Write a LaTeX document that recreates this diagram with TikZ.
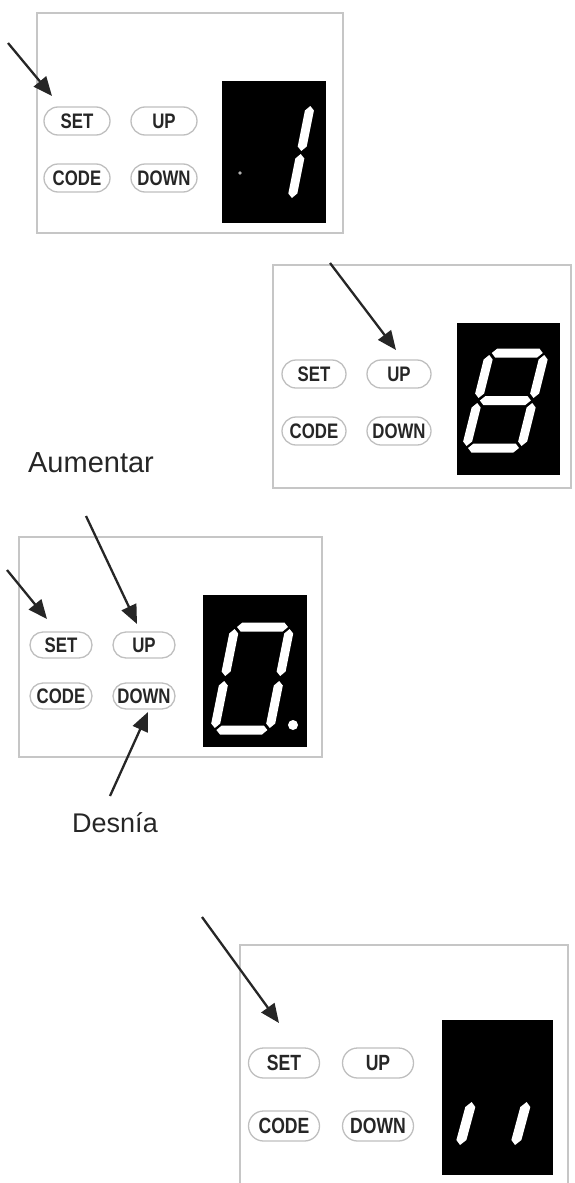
\documentclass[tikz,border=0pt]{standalone}
\usepackage{fontspec}
\usepackage{graphicx}
\setmainfont{Liberation Sans}
\usetikzlibrary{arrows.meta}
\newcommand{\segw}{4.5}
\newcommand{\segh}[3]{\fill[segfill] (#1,#3) -- ({#1+\segw},{#3-\segw}) -- ({#2-\segw},{#3-\segw}) -- (#2,#3) -- ({#2-\segw},{#3+\segw}) -- ({#1+\segw},{#3+\segw}) -- cycle;}
\newcommand{\segv}[3]{\fill[segfill] (#1,#2) -- ({#1+\segw},{#2+\segw}) -- ({#1+\segw},{#3-\segw}) -- (#1,#3) -- ({#1-\segw},{#3-\segw}) -- ({#1-\segw},{#2+\segw}) -- cycle;}
\newcommand{\btxt}[1]{\scalebox{0.8}[1]{#1}}
\begin{document}
\begin{tikzpicture}[x=1pt,y=-1pt,
  panel/.style={draw=gray!45, line width=1.3pt},
  display/.style={fill=black},
  segfill/.style={fill=white},
  btn/.style={draw=gray!50, line width=1.3pt, rounded corners=14pt, minimum width=66pt, minimum height=28pt, inner sep=0pt, text=black!85, font=\fontsize{21}{21}\selectfont\bfseries},
  arr/.style={draw=black!85, line width=2.3pt, -{Triangle[length=19pt,width=16pt]}},
  lbl/.style={text=black!85, inner sep=0pt}]
\useasboundingbox (0,0) rectangle (574,1183);

% ---------- Panel 1 ----------
\draw[panel] (37,13) rectangle (343,233);
\fill[display] (222,81) rectangle (326,223);
\fill[gray!60] (240,173) circle (1.8);
\begin{scope}[shift={(291.5,200)}, xslant=0.2]
  \segv{0}{-94}{-49}
  \segv{0}{-46}{-2}
\end{scope}
\node[btn] (p1set) at (77,121) {\btxt{SET}};
\node[btn] (p1up) at (164,121) {\btxt{UP}};
\node[btn] (p1code) at (77,178) {\btxt{CODE}};
\node[btn] (p1down) at (164,178) {\btxt{DOWN}};
\coordinate (p1a) at (8,43);
\coordinate (p1b) at (52,96);
\draw[arr] (p1a) -- (p1b);

% ---------- Panel 2 ----------
\draw[panel] (273,265) rectangle (571,488);
\fill[display] (457,323) rectangle (560,475);
\begin{scope}[shift={(466,448)}, xslant=0.25]
  \segh{2}{53}{-95}
  \segh{2}{53}{-47.5}
  \segh{2}{53}{0}
  \segv{55}{-93}{-50}
  \segv{55}{-45}{-2}
  \segv{0}{-45}{-2}
  \segv{0}{-93}{-50}
\end{scope}
\node[btn, minimum width=64pt] (p2set) at (314,374) {\btxt{SET}};
\node[btn, minimum width=64pt] (p2up) at (399,374) {\btxt{UP}};
\node[btn, minimum width=64pt] (p2code) at (314,431) {\btxt{CODE}};
\node[btn, minimum width=64pt] (p2down) at (399,431) {\btxt{DOWN}};
\coordinate (p2a) at (330,263);
\coordinate (p2b) at (396,350);
\draw[arr] (p2a) -- (p2b);

% ---------- Panel 3 ----------
\node[lbl, font=\fontsize{29}{29}\selectfont] (aum) at (91,463) {Aumentar};
\draw[panel] (19,537) rectangle (322,757);
\fill[display] (203,595) rectangle (307,747);
\begin{scope}[shift={(214.4,730)}, xslant=0.2]
  \segh{2}{53}{-103}
  \segh{2}{53}{0}
  \segv{55}{-101}{-54}
  \segv{55}{-49}{-2}
  \segv{0}{-49}{-2}
  \segv{0}{-101}{-54}
\end{scope}
\fill[white] (293,725) circle (5);
\node[btn, minimum width=62pt, minimum height=26pt, rounded corners=13pt] (p3set) at (61,645) {\btxt{SET}};
\node[btn, minimum width=62pt, minimum height=26pt, rounded corners=13pt] (p3up) at (144,645) {\btxt{UP}};
\node[btn, minimum width=62pt, minimum height=26pt, rounded corners=13pt] (p3code) at (61,696) {\btxt{CODE}};
\node[btn, minimum width=62pt, minimum height=26pt, rounded corners=13pt] (p3down) at (144,696) {\btxt{DOWN}};
\coordinate (p3a) at (7,570);
\coordinate (p3b) at (47,619);
\draw[arr] (p3a) -- (p3b);
\coordinate (p3c) at (86,516);
\coordinate (p3d) at (137,624);
\draw[arr] (p3c) -- (p3d);
\coordinate (p3e) at (110,796);
\coordinate (p3f) at (148,712);
\draw[arr] (p3e) -- (p3f);
\node[lbl, font=\fontsize{27}{27}\selectfont] (des) at (115,823) {Desnía};

% ---------- Panel 4 ----------
\draw[panel] (240,1183) -- (240,945) -- (568,945) -- (568,1183);
\fill[display] (442,1020) rectangle (553,1175);
\begin{scope}[shift={(459.5,1147)}, xslant=0.27]
  \renewcommand{\segw}{5}
  \segv{0}{-45}{-2}
\end{scope}
\begin{scope}[shift={(514.5,1147)}, xslant=0.27]
  \renewcommand{\segw}{5}
  \segv{0}{-45}{-2}
\end{scope}
\node[btn, minimum width=71pt, minimum height=30pt, rounded corners=15pt, font=\fontsize{22}{22}\selectfont\bfseries] (p4set) at (284,1063) {\btxt{SET}};
\node[btn, minimum width=71pt, minimum height=30pt, rounded corners=15pt, font=\fontsize{22}{22}\selectfont\bfseries] (p4up) at (378,1063) {\btxt{UP}};
\node[btn, minimum width=71pt, minimum height=30pt, rounded corners=15pt, font=\fontsize{22}{22}\selectfont\bfseries] (p4code) at (284,1126) {\btxt{CODE}};
\node[btn, minimum width=71pt, minimum height=30pt, rounded corners=15pt, font=\fontsize{22}{22}\selectfont\bfseries] (p4down) at (378,1126) {\btxt{DOWN}};
\coordinate (p4a) at (202,917);
\coordinate (p4b) at (279,1023);
\draw[arr] (p4a) -- (p4b);
\end{tikzpicture}
\end{document}
